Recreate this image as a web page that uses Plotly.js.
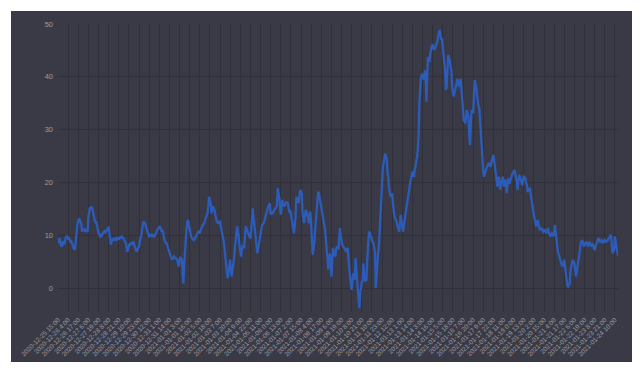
<!DOCTYPE html>
<html>
<head>
<meta charset="utf-8">
<script src="https://cdn.plot.ly/plotly-3.0.1.min.js"></script>
<style>
html,body{margin:0;padding:0;background:#ffffff;}
#frame{position:absolute;left:11px;top:11px;width:621px;height:351px;background:#3a3a46;}
#chart{width:621px;height:351px;}
</style>
</head>
<body>
<div id="frame"><div id="chart"></div></div>
<script>
// Hourly series start (first category) and tick step in categories
const startTime = "2020-12-25 15:00";
const tickStep = 13;
const yTickValues = [0, 10, 20, 30, 40, 50];

const values = [
8.5, 8.8, 9.5, 8.6, 8.1, 7.9, 8.4, 8.9, 8.3, 9.2, 9.6, 9.9, 9.7, 9.4, 9.5, 9.1, 8.8, 8.9, 8.4, 8.2,
7.9, 7.3, 7.6, 9.2, 11.4, 12.1, 12.6, 13.2, 12.9, 12.5, 12.1, 10.7, 11.2, 10.8, 11.3, 11.0, 10.6, 11.1, 10.7, 13.5,
14.6, 15.3, 15.0, 15.5, 15.1, 14.4, 13.8, 13.5, 12.3, 12.7, 11.6, 11.0, 10.4, 10.1, 9.8, 10.0, 9.9, 10.3, 10.4, 10.7,
10.8, 10.6, 11.0, 11.2, 11.4, 11.5, 10.6, 9.8, 8.2, 9.0, 9.4, 9.2, 9.5, 9.1, 9.3, 9.0, 9.5, 9.4, 9.2, 9.6,
9.5, 9.7, 9.8, 9.4, 9.6, 9.1, 8.8, 8.6, 7.8, 6.9, 7.5, 8.1, 8.5, 8.2, 8.7, 8.4, 8.6, 8.8, 8.1, 7.6,
7.2, 6.9, 7.3, 7.6, 7.9, 8.9, 9.4, 10.1, 11.2, 12.3, 12.7, 12.1, 12.4, 11.6, 11.2, 10.8, 10.1, 9.8, 9.9, 10.0,
10.1, 9.7, 10.0, 9.8, 9.8, 10.2, 10.7, 11.0, 11.2, 11.4, 11.6, 11.7, 11.1, 10.7, 10.9, 10.7, 9.6, 8.8, 8.5, 8.7,
8.2, 7.9, 7.6, 7.0, 6.6, 6.1, 5.4, 5.8, 5.5, 6.0, 5.9, 5.7, 5.6, 5.3, 4.9, 4.1, 5.2, 5.9, 5.6, 5.4,
3.1, 0.9, 4.5, 7.2, 9.1, 11.2, 12.6, 12.9, 12.0, 11.1, 10.5, 9.8, 9.5, 9.3, 9.1, 9.2, 9.4, 9.7, 10.1, 10.3,
10.7, 10.6, 10.4, 10.9, 11.4, 11.7, 12.0, 12.1, 12.3, 13.0, 13.5, 13.7, 14.2, 15.6, 17.3, 16.8, 16.1, 14.2, 14.9, 15.5,
15.1, 14.8, 13.9, 13.0, 12.6, 12.4, 12.3, 12.5, 12.6, 11.8, 11.0, 10.4, 9.8, 8.6, 7.2, 5.4, 3.5, 2.8, 1.9, 3.5,
4.6, 5.4, 3.4, 2.2, 3.5, 4.5, 5.6, 7.5, 8.8, 10.4, 11.7, 10.6, 9.8, 8.1, 6.6, 6.0, 7.1, 8.2, 7.9, 7.6,
9.6, 11.7, 11.3, 11.0, 10.6, 10.1, 9.7, 9.4, 10.8, 12.9, 15.1, 13.6, 12.3, 10.4, 9.8, 8.2, 6.6, 7.4, 8.5, 9.2,
10.4, 11.3, 12.0, 12.1, 12.3, 12.8, 13.5, 14.1, 14.8, 15.0, 15.5, 15.8, 16.1, 13.9, 14.4, 14.0, 14.2, 14.6, 14.9, 15.1,
15.3, 15.5, 18.9, 18.2, 17.3, 15.6, 13.9, 15.2, 16.7, 16.0, 15.8, 15.5, 16.0, 16.4, 16.2, 16.1, 15.3, 14.5, 14.6, 14.2,
13.1, 12.0, 11.2, 10.4, 11.9, 13.5, 17.3, 16.8, 16.3, 16.1, 17.5, 18.6, 18.3, 18.0, 14.2, 13.1, 12.3, 13.6, 14.8, 14.5,
14.2, 13.3, 12.3, 13.4, 14.5, 12.1, 9.8, 6.3, 7.4, 8.5, 10.7, 12.9, 15.5, 18.0, 18.2, 18.0, 17.1, 16.1, 15.3, 14.8,
13.6, 12.3, 11.6, 11.0, 9.1, 7.9, 5.6, 3.5, 4.7, 6.6, 5.4, 2.2, 4.9, 7.6, 6.8, 6.5, 6.0, 7.2, 7.9, 7.7,
7.6, 9.4, 11.4, 9.8, 8.5, 8.2, 7.9, 7.7, 7.6, 7.3, 6.9, 7.2, 7.6, 5.4, 3.5, 1.6, 0.6, -0.3, 1.4, 2.8,
2.1, 1.6, 5.7, 3.1, 0.3, -0.3, -2.2, -3.8, -0.9, 0.4, 1.1, 1.6, 4.7, 3.0, 1.3, 1.5, 1.6, 5.2, 9.8, 10.2,
10.7, 10.1, 9.6, 9.1, 8.7, 8.5, 7.8, 6.9, 0.0, 2.8, 5.4, 6.7, 7.9, 11.0, 14.2, 17.8, 21.1, 22.4, 23.7, 24.6,
25.5, 25.0, 24.6, 22.0, 21.1, 19.0, 18.0, 17.3, 17.6, 18.0, 16.1, 14.6, 13.5, 13.2, 12.9, 12.4, 11.7, 11.2, 10.7, 12.1,
13.9, 12.6, 11.7, 10.7, 11.8, 12.9, 13.8, 14.8, 16.0, 17.3, 18.2, 19.2, 19.8, 20.5, 21.3, 22.1, 21.4, 21.1, 22.6, 23.0,
24.1, 24.8, 26.3, 29.3, 35.2, 38.1, 40.0, 40.3, 40.6, 39.8, 39.4, 41.2, 40.1, 35.3, 38.2, 43.8, 43.1, 42.9, 44.4, 45.7,
45.9, 46.0, 45.6, 45.1, 45.4, 45.7, 46.2, 46.7, 47.9, 48.4, 48.9, 47.8, 47.0, 47.3, 46.1, 44.5, 42.6, 41.3, 37.5, 38.1,
41.5, 44.1, 43.6, 43.2, 42.0, 41.3, 38.1, 37.4, 36.3, 37.0, 37.8, 38.1, 39.0, 39.6, 38.7, 38.1, 38.9, 39.6, 37.8, 35.0,
33.2, 31.8, 31.5, 31.2, 32.4, 33.7, 33.0, 32.5, 29.0, 27.1, 30.8, 33.7, 33.4, 33.1, 36.2, 39.4, 38.6, 38.1, 36.4, 35.0,
34.5, 33.9, 31.2, 28.8, 27.4, 23.0, 22.1, 21.1, 21.8, 22.4, 22.7, 23.0, 23.4, 23.7, 23.3, 23.0, 23.6, 24.3, 24.7, 25.2,
24.1, 23.2, 22.4, 20.8, 19.2, 20.2, 21.1, 19.9, 18.6, 19.8, 20.6, 21.1, 20.1, 19.2, 20.5, 20.3, 18.0, 19.2, 20.8, 20.1,
19.8, 20.5, 21.4, 21.5, 21.7, 22.0, 22.4, 21.8, 21.1, 20.2, 18.6, 20.0, 21.4, 21.1, 20.8, 20.2, 19.5, 20.3, 21.1, 21.0,
20.8, 20.1, 19.5, 18.2, 18.6, 18.9, 19.0, 17.8, 16.4, 15.6, 14.8, 13.8, 12.9, 12.3, 11.7, 12.2, 12.9, 12.0, 11.4, 11.0,
11.2, 11.4, 11.0, 10.7, 10.9, 11.0, 10.7, 10.4, 10.8, 11.4, 10.6, 10.1, 9.8, 10.1, 10.4, 10.2, 9.8, 10.5, 12.0, 10.6,
9.1, 7.8, 6.6, 6.4, 6.0, 5.3, 4.7, 4.4, 4.1, 4.8, 5.4, 4.1, 2.8, 1.5, 0.5, 0.3, 0.6, 0.9, 3.5, 4.4,
5.1, 5.4, 5.0, 4.7, 3.5, 2.2, 3.1, 4.1, 4.8, 5.4, 7.0, 8.5, 8.8, 9.1, 8.5, 7.9, 8.3, 8.6, 8.8, 8.4,
7.9, 8.3, 8.8, 8.4, 7.9, 8.2, 8.5, 8.1, 7.7, 7.2, 7.9, 8.4, 8.8, 9.2, 9.5, 9.1, 8.8, 8.9, 9.1, 8.8,
8.5, 8.8, 9.1, 8.9, 8.8, 9.0, 9.1, 9.4, 9.8, 9.9, 10.1, 8.3, 6.6, 7.0, 7.2, 9.8, 8.6, 7.9, 6.3, 6.1
];

// build hourly category labels like "2020-12-25 15:00"
function pad(n){return (n<10?'0':'')+n;}
const t0 = new Date(startTime.replace(' ', 'T') + ':00Z');
const categories = values.map(function(_, i){
  const d = new Date(t0.getTime() + i*3600000);
  return d.getUTCFullYear() + '-' + pad(d.getUTCMonth()+1) + '-' + pad(d.getUTCDate()) + ' ' + d.getUTCHours() + ':00';
});
const tickLabels = categories.filter(function(_, i){return i % tickStep === 0;});

const bg = '#3a3a46';
const grid = '#30303b';
const txt = '#9a9aa0';

Plotly.newPlot('chart', [{
  x: categories,
  y: values,
  type: 'scatter',
  mode: 'lines',
  line: {color: '#2d5bb8', width: 2.3},
  hoverinfo: 'x+y'
}], {
  width: 621, height: 351,
  paper_bgcolor: bg, plot_bgcolor: bg,
  margin: {l: 47, r: 14, t: 13, b: 50},
  showlegend: false,
  font: {family: 'Liberation Sans, Arial, sans-serif', color: txt, size: 7},
  xaxis: {
    type: 'category',
    tickmode: 'array',
    tickvals: tickLabels,
    ticktext: tickLabels,
    tickangle: -45,
    tickfont: {size: 6.5, color: txt},
    showgrid: true, gridcolor: grid, gridwidth: 1,
    showline: false, zeroline: false, ticks: '',
    ticklabelstandoff: 2,
    range: [0, values.length - 1],
    automargin: false
  },
  yaxis: {
    range: [-4.5, 50],
    tickmode: 'array',
    tickvals: yTickValues,
    ticktext: yTickValues.map(String),
    tickfont: {size: 7.5, color: txt},
    showgrid: true, gridcolor: grid, gridwidth: 1,
    zeroline: false, showline: false, ticks: '',
    ticklabelstandoff: 4,
    automargin: false
  }
}, {displayModeBar: false, staticPlot: true});
</script>
</body>
</html>
